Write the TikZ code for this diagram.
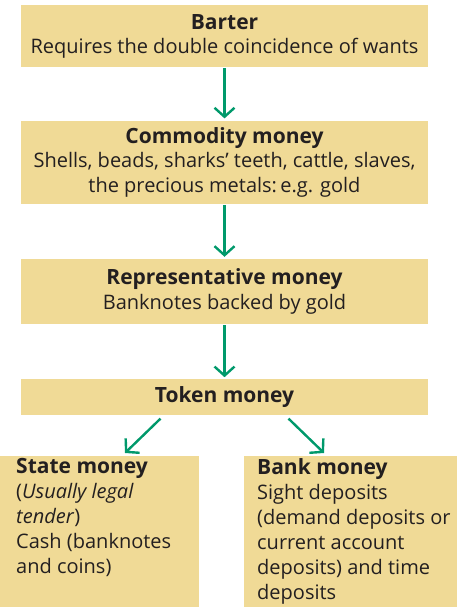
\documentclass[tikz,border=0pt]{standalone}
\usepackage{fontspec}
\setmainfont{Open Sans}
\usepackage{xcolor}
\usetikzlibrary{arrows.meta,positioning}

\definecolor{boxtan}{RGB}{240,218,150}
\definecolor{arrowgreen}{RGB}{0,153,107}
\definecolor{inkdark}{RGB}{35,31,32}

\newcommand{\stagetitle}[1]{{\fontsize{21}{24.5}\selectfont\textbf{#1}}}

\begin{document}
\begin{tikzpicture}[x=1pt,y=1pt,node distance=54pt]
            \tikzstyle{stage} = [rectangle, fill=boxtan, text=inkdark, align=center, minimum width=407pt, inner sep=0pt, font=\fontsize{20}{24.5}\selectfont]
            \tikzstyle{branch} = [rectangle, fill=boxtan, text=inkdark, anchor=north west, inner sep=0pt, font=\fontsize{20}{25}\selectfont]
            \tikzstyle{arrow} = [line width=2.4pt, arrowgreen, -{Straight Barb[length=9pt,width=20pt,line width=2.4pt]}]

            \useasboundingbox (0,0) rectangle (463,-607);

            \node [stage, minimum height=62pt, anchor=north] (barter) at (224.5,-5) {\stagetitle{Barter}\\Requires the double coincidence of wants};
            \node [stage, minimum height=83pt, below=53pt of barter] (commodity) {\stagetitle{Commodity money}\\Shells, beads, sharks’ teeth, cattle, slaves,\\the precious metals:\,e.g. gold};
            \node [stage, minimum height=65pt, below=55pt of commodity] (representative) {\stagetitle{Representative money}\\Banknotes backed by gold};
            \node [stage, minimum height=36pt, below=55pt of representative] (token) {\stagetitle{Token money}};
            \node [branch, minimum width=199pt, minimum height=151pt] (state) at (0,-456) {};
            \node [branch, minimum width=213pt, minimum height=151pt] (bank) at (244,-456) {};
            \node [branch, align=left] (statetext) at (16,-458) {\stagetitle{State money}\\(\textit{Usually legal}\\\textit{tender})\\Cash (banknotes\\and coins)};
            \node [branch, align=left] (banktext) at (257,-458) {\stagetitle{Bank money}\\Sight deposits\\(demand deposits or\\current account\\deposits) and time\\deposits};

            \draw [arrow] ([yshift=-1pt]barter.south) -- ([yshift=2pt]commodity.north);
            \draw [arrow] ([yshift=-1pt]commodity.south) -- ([yshift=2pt]representative.north);
            \draw [arrow] ([yshift=-1pt]representative.south) -- ([yshift=2pt]token.north);
            \draw [arrow] ([xshift=-64pt,yshift=-3pt]token.south) -- ([xshift=125pt,yshift=3pt]state.north west);
            \draw [arrow] ([xshift=64pt,yshift=-3pt]token.south) -- ([xshift=80pt,yshift=3pt]bank.north west);
        \end{tikzpicture}
\end{document}
